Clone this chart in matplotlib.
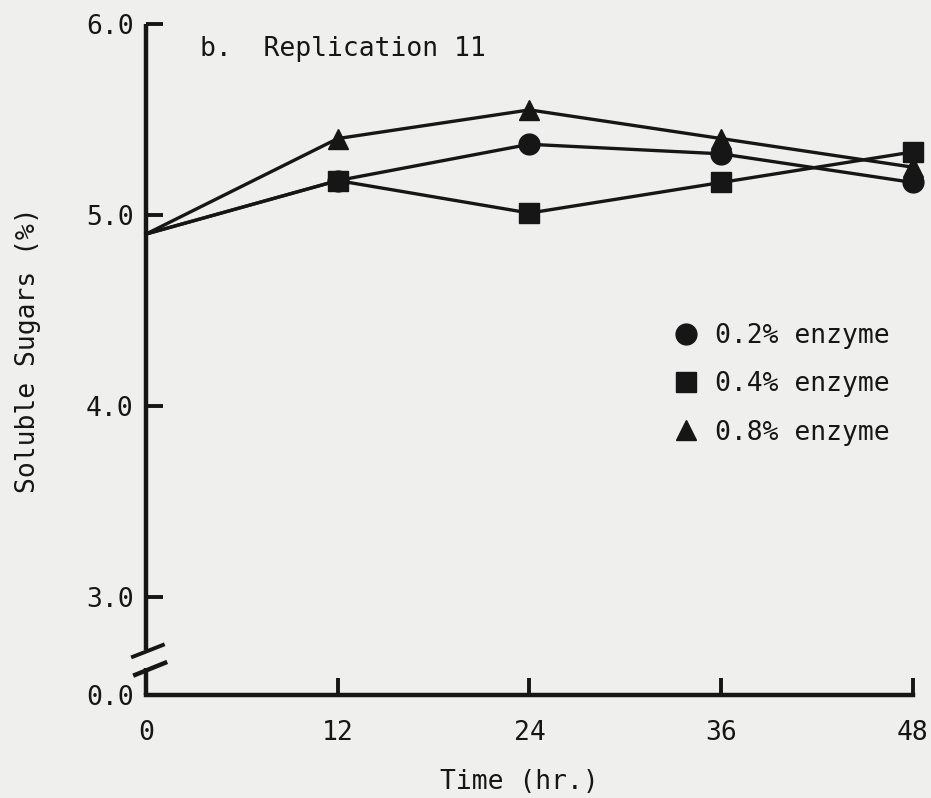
import numpy as np
import matplotlib
matplotlib.use("Agg")
import matplotlib.pyplot as plt
from matplotlib.lines import Line2D

# soluble sugars (%) over incubation time, replication II
hours = [0, 12, 24, 36, 48]
enz_02 = [4.90, 5.18, 5.37, 5.32, 5.17]
enz_04 = [4.90, 5.18, 5.01, 5.17, 5.33]
enz_08 = [4.90, 5.40, 5.55, 5.40, 5.25]

series_labels = ["0.2% enzyme", "0.4% enzyme", "0.8% enzyme"]
series_markers = ["o", "s", "^"]
x_ticks = [0, 12, 24, 36, 48]
y_ticks = [0.0, 3.0, 4.0, 5.0, 6.0]

INK = "#161616"
PAPER = "#efefed"
FS = 19
K = 0.171  # compression of the 0-3 segment below the axis break


def fwd(y):
    y = np.asarray(y, dtype=float)
    return np.where(y >= 3.0, y, 3.0 - (3.0 - y) * K)


def inv(u):
    u = np.asarray(u, dtype=float)
    return np.where(u >= 3.0, u, 3.0 - (3.0 - u) / K)


plt.rcParams["font.family"] = ["DejaVu Sans Mono"]
plt.rcParams["text.color"] = INK

fig = plt.figure(figsize=(9.31, 7.98), dpi=100, facecolor=PAPER)
ax = fig.add_axes([0.1568, 0.1291, 0.8238, 0.8409])
ax.set_facecolor(PAPER)
ax.set_yscale("function", functions=(fwd, inv))

# the common starting value at 0 h carries no symbol
for vals, mk in zip([enz_02, enz_04, enz_08], series_markers):
    ax.plot(hours, vals, color=INK, lw=2.4, marker=mk, ms=15,
            markevery=slice(1, None), mfc=INK, mec=INK,
            clip_on=False, zorder=3)

ax.set_xlim(0, 48)
ax.set_ylim(0, 6)
ax.set_xticks(x_ticks)
ax.set_xticklabels([str(t) for t in x_ticks])
ax.set_yticks(y_ticks)
ax.set_yticklabels([f"{v:.1f}" for v in y_ticks])
ax.yaxis.set_minor_locator(plt.NullLocator())

ax.tick_params(axis="both", direction="in", length=12, width=2.8,
               color=INK, labelcolor=INK, labelsize=FS)
ax.tick_params(axis="y", pad=9)
ax.tick_params(axis="x", pad=18)

for side in ["top", "right", "left"]:
    ax.spines[side].set_visible(False)
ax.spines["bottom"].set_linewidth(3.2)
ax.spines["bottom"].set_color(INK)

# left axis drawn in two pieces with a break between 0.0 and 3.0
tr = ax.transAxes
ax.plot([0, 0], [0.067, 1.0], color=INK, lw=3.2, transform=tr, clip_on=False, solid_capstyle="butt")
ax.plot([0, 0], [0.0, 0.040], color=INK, lw=3.2, transform=tr, clip_on=False, solid_capstyle="butt")
ax.plot([-0.017, 0.022], [0.057, 0.0745], color=INK, lw=2.8, transform=tr, clip_on=False)
ax.plot([-0.014, 0.025], [0.030, 0.048], color=INK, lw=3.2, transform=tr, clip_on=False)

ax.set_xlabel("Time (hr.)", fontsize=FS, color=INK)
ax.xaxis.set_label_coords(0.487, -0.11)
ax.set_ylabel("Soluble Sugars (%)", fontsize=FS, color=INK)
ax.yaxis.set_label_coords(-0.137, 0.514)

ax.text(0.07, 0.962, "b.  Replication 11", transform=tr, fontsize=FS,
        color=INK, ha="left", va="center")

handles = [Line2D([], [], ls="none", marker=mk, ms=15, mfc=INK, mec=INK)
           for mk in series_markers]
leg = ax.legend(handles, series_labels, loc="center left",
                bbox_to_anchor=(0.67, 0.463), frameon=False, fontsize=FS,
                handlelength=1.0, handletextpad=0.6, labelspacing=0.85,
                borderpad=0.0)

fig.savefig("out.png", dpi=100, facecolor=PAPER)
